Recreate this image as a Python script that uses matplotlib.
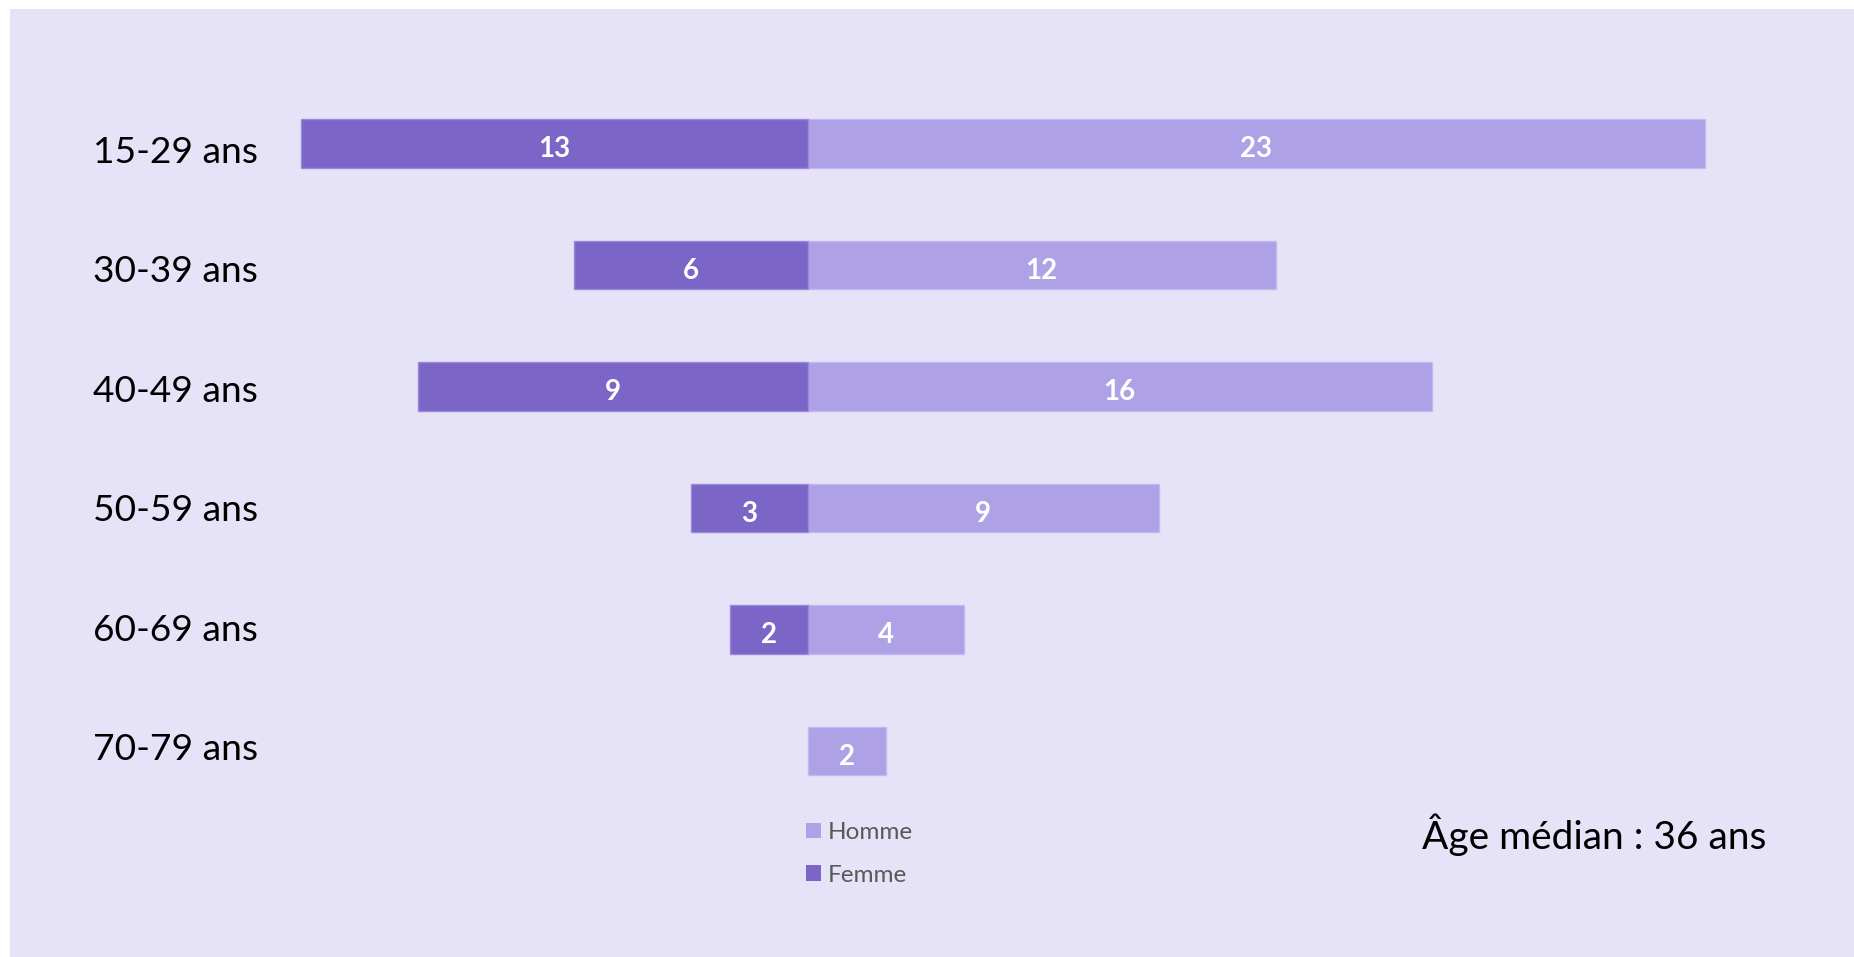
import matplotlib.pyplot as plt
from matplotlib.patches import Rectangle

# data (bar lengths as drawn; the 40-49 femme bar is drawn at 10 but labelled 9 in the source)
age_groups = ["15-29 ans", "30-39 ans", "40-49 ans", "50-59 ans", "60-69 ans", "70-79 ans"]
femme = [13, 6, 10, 3, 2, 0]
homme = [23, 12, 16, 9, 4, 2]
femme_labels = ["13", "6", "9", "3", "2", ""]
homme_labels = ["23", "12", "16", "9", "4", "2"]
median_text = "Âge médian : 36 ans"

BG = "#E6E3F8"
C_FEMME = "#7B65C6"
C_HOMME = "#AFA1E6"
W, H = 1854, 957

plt.rcParams["font.family"] = ["Lato", "DejaVu Sans"]

fig = plt.figure(figsize=(W / 100, H / 100), dpi=100)
fig.patch.set_facecolor("white")
fig.patches.append(Rectangle((10 / W, 0), 1 - 10 / W, 948 / H, transform=fig.transFigure,
                             facecolor=BG, edgecolor="none", zorder=-5))

ax = fig.add_axes([0, 0, 1, 1])
ax.set_facecolor("none")
ax.axis("off")

# 39 px per unit, zero line at x=807.5 px; rows 121.5 px apart starting at 143.5 px
px_unit, x0 = 39.0, 807.5
row_step, row0 = 121.5, 143.5
ax.set_xlim(-x0 / px_unit, (W - x0) / px_unit)
ax.set_ylim((H - row0) / row_step, -row0 / row_step)

ypos = list(range(len(age_groups)))
neg_femme = [-v for v in femme]
b_h = ax.barh(ypos, homme, height=0.4, color=C_HOMME, edgecolor="#C3B9EE", linewidth=1, label="Homme")
b_f = ax.barh(ypos, neg_femme, height=0.4, color=C_FEMME, edgecolor="#9A89D9", linewidth=1, label="Femme")
# empty bars would still show their outline
for patch, v in zip(b_f, femme):
    if v == 0:
        patch.set_visible(False)

for y, f, h, fl, hl in zip(ypos, femme, homme, femme_labels, homme_labels):
    for txt, xc in ((fl, -f / 2), (hl, h / 2)):
        if not txt:
            continue
        ax.annotate(txt, (xc, y), xytext=(0, -9.8), textcoords="offset points",
                    ha="center", va="baseline", color="white", fontsize=20, fontweight="bold")

# category labels (baselines 119.4 px apart)
for i, lab in enumerate(age_groups):
    base = 163 + 119.4 * i
    fig.text(93 / W, 1 - base / H, lab, ha="left", va="baseline", fontsize=26.7, color="black")

fig.text(1422 / W, 1 - 849 / H, median_text, ha="left", va="baseline", fontsize=28, color="black")

leg = ax.legend(handles=[b_h, b_f], loc="upper left", bbox_to_anchor=(806 / W, 1 - 822 / H),
                bbox_transform=fig.transFigure, frameon=False, fontsize=17.5,
                handlelength=0.62, handleheight=0.62, handletextpad=0.28,
                labelspacing=0.9, borderpad=0, borderaxespad=0, labelcolor="#595959")
for p in leg.get_patches():
    p.set_edgecolor("none")

fig.savefig("out.png", dpi=100)
